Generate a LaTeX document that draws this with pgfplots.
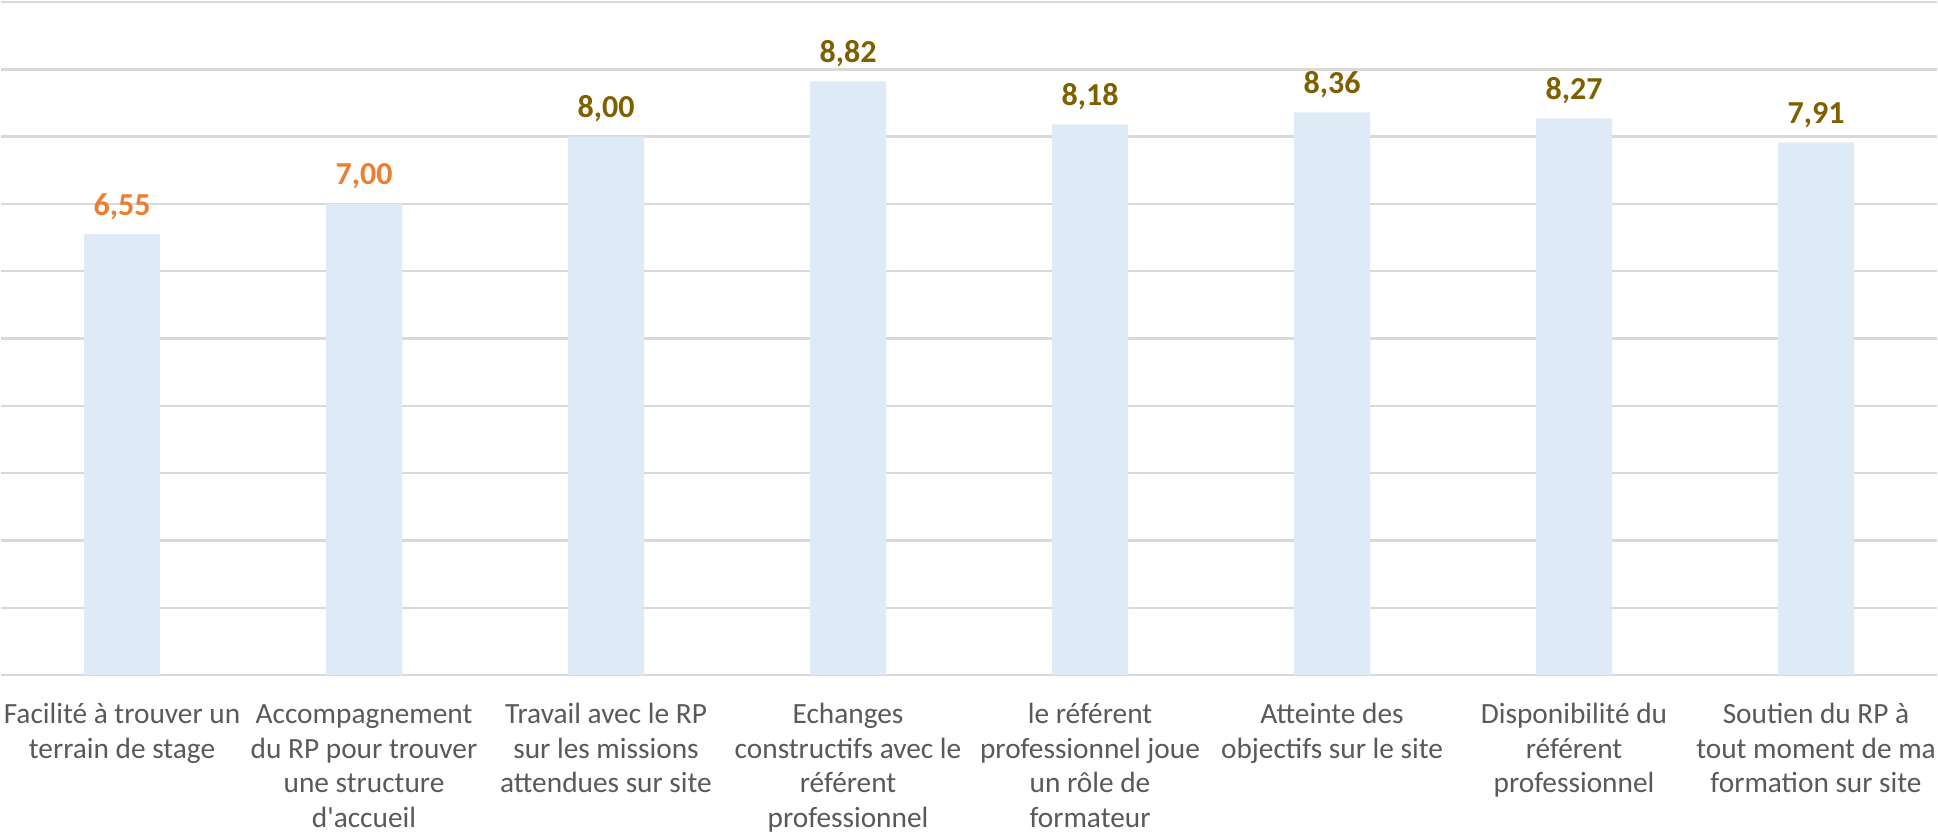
\documentclass[border=0pt]{standalone}
\usepackage{fontspec}
\setmainfont{Carlito}[Ligatures=TeXOff]
\usepackage{pgfplots}
\pgfplotsset{compat=1.18}

\definecolor{barblue}{HTML}{DEEBF7}
\definecolor{gridgray}{HTML}{D9D9D9}
\definecolor{labgray}{HTML}{595959}
\definecolor{laborange}{HTML}{ED7D31}
\definecolor{labgold}{HTML}{7F6000}

\begin{document}
\begin{tikzpicture}
\begin{axis}[
    name=ax,
    scale only axis,
    width=726pt, height=252.375pt,
    xmin=-0.5, xmax=7.5,
    ymin=0, ymax=10,
    ybar, bar width=0.314,
    axis line style={draw=none},
    major tick length=0pt,
    ytick={0,1,...,10},
    yticklabels={},
    ymajorgrids,
    grid style={gridgray, line width=0.9pt},
    xtick={0,...,7},
    xticklabels={
        {\strut Facilité à trouver un\\terrain de stage},
        {\strut Accompagnement\\du RP pour trouver\\une structure\\d'accueil},
        {\strut Travail avec le RP\\sur les missions\\attendues sur site},
        {\strut Echanges\\constructifs avec le\\référent\\professionnel},
        {\strut le référent\\professionnel joue\\un rôle de\\formateur},
        {\strut Atteinte des\\objectifs sur le site},
        {\strut Disponibilité du\\référent\\professionnel},
        {\strut Soutien du RP à\\tout moment de ma\\formation sur site}},
    xticklabel style={align=center, anchor=north, inner sep=0pt, yshift=-8.9pt,
        text=labgray, font=\fontsize{11}{13}\selectfont},
    nodes near coords={\pgfmathprintnumber[fixed, fixed zerofill, precision=2,
        use comma, assume math mode=true]{\pgfplotspointmeta}},
    every node near coord/.append style={anchor=base, inner sep=0pt, yshift=7.1pt,
        font=\fontsize{12}{14}\selectfont\bfseries},
]
% scores, low ones labelled in orange
\addplot[draw=none, fill=barblue, bar shift=0pt,
    every node near coord/.append style={text=laborange}]
    coordinates {(0,6.55) (1,7.00)};
\addplot[draw=none, fill=barblue, bar shift=0pt,
    every node near coord/.append style={text=labgold}]
    coordinates {(2,8.00) (3,8.82) (4,8.18) (5,8.36) (6,8.27) (7,7.91)};
\end{axis}
\pgfresetboundingbox
\path ([shift={(-0.375pt,-60.375pt)}]ax.south west)
    rectangle ([shift={(0.375pt,0.75pt)}]ax.north east);
\end{tikzpicture}
\end{document}
